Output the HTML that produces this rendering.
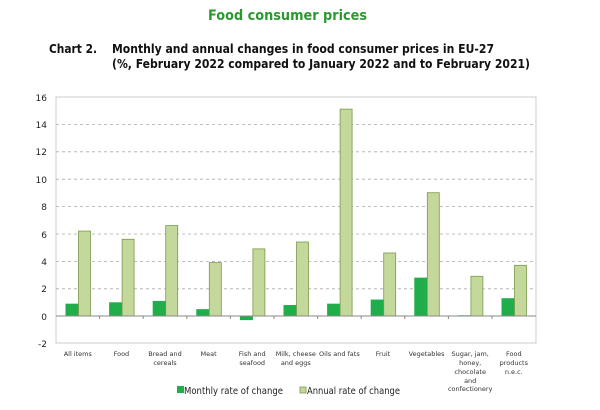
<!DOCTYPE html><html><head><style>body{margin:0;background:#fff}svg text{font-family:"DejaVu Sans","Liberation Sans",sans-serif}</style></head><body>
<svg width="600" height="405" xmlns="http://www.w3.org/2000/svg">
<text x="208" y="20" font-size="14" font-weight="bold" fill="#2a9a30" textLength="159" lengthAdjust="spacingAndGlyphs">Food consumer prices</text>
<text x="49" y="53" font-size="12" font-weight="bold" fill="#111" textLength="48" lengthAdjust="spacingAndGlyphs">Chart 2.</text>
<text x="112" y="53" font-size="12" font-weight="bold" fill="#111" textLength="382" lengthAdjust="spacingAndGlyphs">Monthly and annual changes in food consumer prices in EU-27</text>
<text x="112" y="68" font-size="12" font-weight="bold" fill="#111" textLength="418" lengthAdjust="spacingAndGlyphs">(%, February 2022 compared to January 2022 and to February 2021)</text>
<rect x="56" y="97" width="480" height="246" fill="none" stroke="#ccc"/>
<g stroke="#aaa" stroke-dasharray="3,3" stroke-width="0.8">
<line x1="56" x2="536" y1="124.4" y2="124.4"/><line x1="56" x2="536" y1="151.8" y2="151.8"/><line x1="56" x2="536" y1="179.2" y2="179.2"/><line x1="56" x2="536" y1="206.6" y2="206.6"/><line x1="56" x2="536" y1="234" y2="234"/><line x1="56" x2="536" y1="261.4" y2="261.4"/><line x1="56" x2="536" y1="288.8" y2="288.8"/>
</g>
<g font-size="9" fill="#222" text-anchor="end">
<text x="47" y="101">16</text><text x="47" y="128">14</text><text x="47" y="155">12</text><text x="47" y="183">10</text><text x="47" y="210">8</text><text x="47" y="238">6</text><text x="47" y="265">4</text><text x="47" y="292">2</text><text x="47" y="320">0</text><text x="47" y="347">-2</text>
</g>
<g fill="#1fae4a">
<rect x="65.5" y="303.67" width="13" height="12.33"/>
<rect x="109.1" y="302.3" width="13" height="13.7"/>
<rect x="152.7" y="300.93" width="13" height="15.07"/>
<rect x="196.3" y="309.15" width="13" height="6.85"/>
<rect x="239.9" y="316" width="13" height="4.11"/>
<rect x="283.5" y="305.04" width="13" height="10.96"/>
<rect x="327.1" y="303.67" width="13" height="12.33"/>
<rect x="370.7" y="299.56" width="13" height="16.44"/>
<rect x="414.3" y="277.64" width="13" height="38.36"/>
<rect x="457.9" y="315.3" width="13" height="0.7"/>
<rect x="501.5" y="298.19" width="13" height="17.81"/>
</g>
<g fill="#c4d89c" stroke="#7a9a4a" stroke-width="0.8">
<rect x="78.5" y="231.06" width="12" height="84.94"/>
<rect x="122.1" y="239.28" width="12" height="76.72"/>
<rect x="165.7" y="225.58" width="12" height="90.42"/>
<rect x="209.3" y="262.57" width="12" height="53.43"/>
<rect x="252.9" y="248.87" width="12" height="67.13"/>
<rect x="296.5" y="242.02" width="12" height="73.98"/>
<rect x="340.1" y="109.13" width="12" height="206.87"/>
<rect x="383.7" y="252.98" width="12" height="63.02"/>
<rect x="427.3" y="192.7" width="12" height="123.3"/>
<rect x="470.9" y="276.27" width="12" height="39.73"/>
<rect x="514.5" y="265.31" width="12" height="50.69"/>
</g>
<line x1="56" x2="536" y1="316" y2="316" stroke="#888"/>
<g stroke="#888">
<line x1="99.6" x2="99.6" y1="316" y2="319"/><line x1="143.2" x2="143.2" y1="316" y2="319"/><line x1="186.8" x2="186.8" y1="316" y2="319"/><line x1="230.4" x2="230.4" y1="316" y2="319"/><line x1="274" x2="274" y1="316" y2="319"/><line x1="317.6" x2="317.6" y1="316" y2="319"/><line x1="361.2" x2="361.2" y1="316" y2="319"/><line x1="404.8" x2="404.8" y1="316" y2="319"/><line x1="448.4" x2="448.4" y1="316" y2="319"/><line x1="492" x2="492" y1="316" y2="319"/>
</g>
<g font-size="6.5" fill="#333" text-anchor="middle">
<text x="77.8" y="356">All items</text>
<text x="121.4" y="356">Food</text>
<text x="165" y="356">Bread and</text><text x="165" y="365">cereals</text>
<text x="208.6" y="356">Meat</text>
<text x="252.2" y="356">Fish and</text><text x="252.2" y="365">seafood</text>
<text x="295.8" y="356">Milk, cheese</text><text x="295.8" y="365">and eggs</text>
<text x="339.4" y="356">Oils and fats</text>
<text x="383" y="356">Fruit</text>
<text x="426.6" y="356">Vegetables</text>
<text x="470.2" y="356">Sugar, jam,</text><text x="470.2" y="365">honey,</text><text x="470.2" y="374">chocolate</text><text x="470.2" y="383">and</text><text x="470.2" y="391">confectionery</text>
<text x="513.8" y="356">Food</text><text x="513.8" y="365">products</text><text x="513.8" y="374">n.e.c.</text>
</g>
<rect x="177" y="386" width="7" height="7" fill="#1fae4a"/>
<text x="184" y="394" font-size="10" fill="#222" textLength="99" lengthAdjust="spacingAndGlyphs">Monthly rate of change</text>
<rect x="300" y="387" width="6" height="6" fill="#c4d89c" stroke="#7a9a4a" stroke-width="0.8"/>
<text x="307" y="394" font-size="10" fill="#222" textLength="93" lengthAdjust="spacingAndGlyphs">Annual rate of change</text>
</svg></body></html>
